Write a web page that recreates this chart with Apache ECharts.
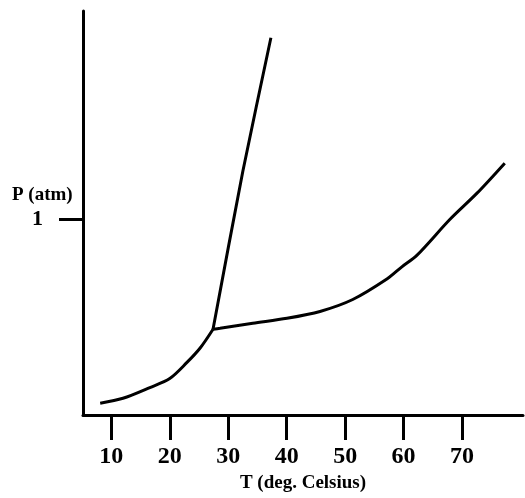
<!DOCTYPE html>
<html>
<head>
<meta charset="utf-8">
<script src="https://cdn.jsdelivr.net/npm/echarts@6/dist/echarts.min.js"></script>
<style>html,body{margin:0;padding:0;background:#fff;}#c{width:525px;height:498px;}</style>
</head>
<body>
<div id="c"></div>
<script>
// Temperature (deg C) / pressure (atm)
const solidVapourT = [8.1, 12.0, 16.6, 20.0, 22.9, 25.2, 27.4];
const solidVapourP = [0.061, 0.086, 0.141, 0.187, 0.268, 0.343, 0.439];
const solidLiquidT = [27.4, 32.5, 37.3];
const solidLiquidP = [0.439, 1.247, 1.929];
const liquidVapourT = [27.4, 28.6, 34.2, 40.05, 45.7, 51.3, 57.2, 59.7, 62.3, 67.9, 72.6, 77.3];
const liquidVapourP = [0.439, 0.444, 0.470, 0.495, 0.530, 0.591, 0.697, 0.758, 0.818, 1.0, 1.136, 1.288];
const xTicks = [10, 20, 30, 40, 50, 60, 70];
const yTicks = [1];
const xTitle = 'T (deg. Celsius)';
const yTitle = 'P (atm)';

const pair = (xs, ys) => xs.map((x, i) => [x, ys[i]]);
const FONT = '"Liberation Serif", "Times New Roman", serif';
const lineStyle = { color: '#000', width: 3 };

const chart = echarts.init(document.getElementById('c'));
chart.setOption({
  animation: false,
  backgroundColor: '#fff',
  grid: { left: 83, right: 2, top: 11, bottom: 78 },
  xAxis: {
    type: 'value', min: 5.16, max: 80.42,
    name: xTitle, nameLocation: 'middle', nameGap: 57,
    nameTextStyle: { fontFamily: FONT, fontWeight: 'bold', fontSize: 19, color: '#000' },
    axisLine: { show: true, onZero: false, lineStyle: { color: '#000', width: 3 } },
    axisTick: { show: true, inside: false, length: 25, customValues: xTicks, lineStyle: { color: '#000', width: 3 } },
    axisLabel: { customValues: xTicks, margin: 30, fontFamily: FONT, fontWeight: 'bold', fontSize: 24, color: '#000' },
    splitLine: { show: false }
  },
  yAxis: {
    type: 'value', min: 0, max: 2.066,
    axisLine: { show: true, onZero: false, lineStyle: { color: '#000', width: 3 } },
    axisTick: { show: true, inside: false, length: 24, customValues: yTicks, lineStyle: { color: '#000', width: 3 } },
    axisLabel: { customValues: yTicks, margin: 40, fontFamily: FONT, fontWeight: 'bold', fontSize: 22, color: '#000' },
    splitLine: { show: false }
  },
  graphic: [{
    type: 'text', left: 12, top: 186,
    style: { text: yTitle, fontFamily: FONT, fontWeight: 'bold', fontSize: 19, fill: '#000' }
  }],
  series: [
    { type: 'line', data: pair(solidVapourT, solidVapourP), smooth: 0.3, symbol: 'none', lineStyle },
    { type: 'line', data: pair(solidLiquidT, solidLiquidP), smooth: 0.2, symbol: 'none', lineStyle },
    { type: 'line', data: pair(liquidVapourT, liquidVapourP), smooth: 0.3, symbol: 'none', lineStyle }
  ]
});
</script>
</body>
</html>
